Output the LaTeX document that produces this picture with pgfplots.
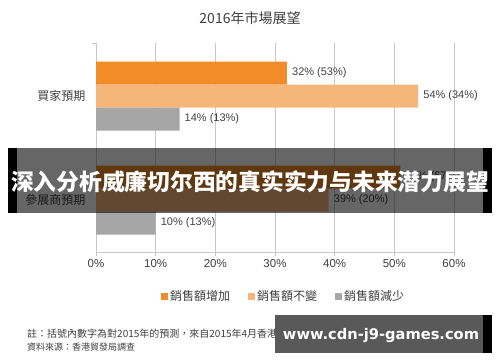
\documentclass[border=0pt]{standalone}
\usepackage{pgfplots}
\pgfplotsset{compat=1.18}
\usepackage{fontspec}
\setmainfont{Liberation Sans}
\newfontfamily\cjk{Noto Sans CJK TC}
\newfontfamily\cjksc{Noto Sans CJK SC}
\newfontfamily\wmfont{DejaVu Sans}
\definecolor{incr}{RGB}{242,140,40}
\definecolor{same}{RGB}{245,182,122}
\definecolor{decr}{RGB}{166,166,166}
\definecolor{txt}{RGB}{64,64,64}
\definecolor{gridc}{RGB}{200,200,200}
\begin{document}
\begin{tikzpicture}[x=1pt,y=1pt]
\path[use as bounding box, fill=white] (0,0) rectangle (500,362);
\node[text=txt, font=\cjk\fontsize{14}{16}\selectfont] at (250,344) {2016年市場展望};
\begin{axis}[
  at={(96pt,110pt)}, anchor=south west,
  scale only axis, width=358pt, height=209pt,
  xbar,
  xmin=0, xmax=60, ymin=-0.5, ymax=1.51,
  xtick={0,10,20,30,40,50,60},
  xticklabels={0\%,10\%,20\%,30\%,40\%,50\%,60\%},
  xmajorgrids, grid style={gridc, line width=0.8pt},
  axis x line*=bottom, axis y line*=left,
  axis line style={gridc, line width=0.8pt, -},
  ytick={0,1},
  yticklabels={{\cjk 參展商預期},{\cjk 買家預期}},
  y tick style={draw=none},
  x tick style={gridc, line width=0.8pt},
  tick align=outside, major tick length=4pt,
  extra y ticks={1.51},
  extra y tick labels={},
  extra y tick style={y tick style={draw=gridc, line width=0.8pt}, grid=none},
  ticklabel style={text=txt},
  xticklabel style={font=\fontsize{11.5}{13}\selectfont},
  yticklabel style={font=\cjk\fontsize{12}{14}\selectfont, xshift=-3pt},
  bar width=23pt,
  nodes near coords, point meta=explicit symbolic,
  every node near coord/.append style={anchor=west, text=txt, font=\fontsize{11}{13}\selectfont, inner sep=1pt, xshift=4pt},
  legend image code/.code={\fill[#1] (0pt,-3.5pt) rectangle (7pt,3.5pt);},
  legend style={at={(0.524,0)}, anchor=center, yshift=-44pt, draw=none, fill=none,
    legend columns=3, font=\cjk\fontsize{12}{14}\selectfont, text=txt,
    /tikz/every even column/.append style={column sep=16pt}},
]
\addplot+[draw=none, fill=incr, bar shift=23pt] coordinates {(32,1) [32\% (53\%)] (51,0) [51\% (67\%)]};
\addplot+[draw=none, fill=same, bar shift=0pt] coordinates {(54,1) [54\% (34\%)] (39,0) [39\% (20\%)]};
\addplot+[draw=none, fill=decr, bar shift=-23pt] coordinates {(14,1) [14\% (13\%)] (10,0) [10\% (13\%)]};
\legend{銷售額增加,銷售額不變,銷售額減少}
\end{axis}
\node[anchor=west, text=txt, font=\cjk\fontsize{10}{12}\selectfont, inner sep=0pt] at (27,28) {註：括號內數字為對2015年的預測，來自2015年4月香港春季電子產品展調查};
\node[anchor=west, text=txt, font=\cjk\fontsize{9}{11}\selectfont, inner sep=0pt] at (27,15) {資料來源：香港貿發局調查};
% overlay banner
\fill[black, opacity=0.6] (8,149) rectangle (492,214);
\fill[black] (8,149) rectangle (17,214);
\fill[black] (483,149) rectangle (492,214);
\node[text=white, inner sep=0pt] at (250,180) {\resizebox{478pt}{!}{\cjksc\bfseries 深入分析威廉切尔西的真实实力与未来潜力展望}};
% watermark box
\fill[black!65] (275,9) rectangle (492,47);
\fill[black] (483,9) rectangle (492,47);
\node[text=white, inner sep=0pt] at (381,26) {\resizebox{196pt}{!}{\wmfont\bfseries www.cdn-j9-games.com}};
\end{tikzpicture}
\end{document}
